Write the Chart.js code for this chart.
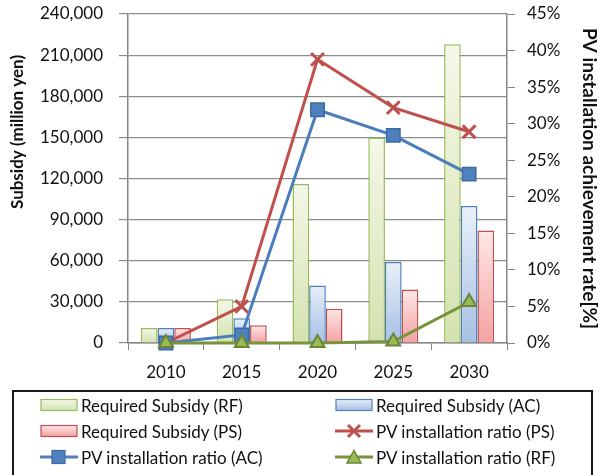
<!DOCTYPE html>
<html>
<head>
<meta charset="utf-8">
<script src="https://cdn.jsdelivr.net/npm/chart.js@4"></script>
<style>
  body { margin: 0; background: #fff; font-family: Lato, "Open Sans", sans-serif; }
  #wrap { position: relative; width: 603px; height: 475px; }
  #box { position: absolute; left: 0; top: 0; width: 603px; height: 392px; }
  #legend {
    position: absolute; left: 12px; top: 390px; width: 581px; height: 88px;
    border: 2px solid #1a1a1a; box-sizing: border-box;
  }
  .item { position: absolute; height: 24px; display: flex; align-items: center; font-size: 17px; color: #111; white-space: nowrap; }
  .item svg { margin-right: 3px; }
</style>
</head>
<body>
<div id="wrap">
  <div id="box"><canvas id="chart"></canvas></div>
  <div id="legend"></div>
</div>
<script>
const years = ['2010', '2015', '2020', '2025', '2030'];

// required subsidy, million yen
const subsidyRF = [11000, 32000, 116000, 150000, 218000];
const subsidyAC = [11000, 18000, 42000, 59000, 100000];
const subsidyPS = [11000, 13000, 25000, 39000, 82000];

// PV installation ratio, %
const ratioPS = [0, 5.0, 38.8, 32.2, 28.9];
const ratioAC = [0, 1.1, 31.9, 28.4, 23.1];
const ratioRF = [0, 0, 0, 0.2, 5.6];

const green = { top: '#f4f8e9', bottom: '#d4e2ae', line: '#9bbb59' };
const blue = { top: '#e9f0fa', bottom: '#a6bfe3', line: '#4f81bd' };
const red = { top: '#fde8e8', bottom: '#f4a1a1', line: '#c0504d' };

function barFill(c) {
  return (ctx) => {
    if (ctx.type !== 'data' || !ctx.chart.chartArea) return c.bottom;
    const ys = ctx.chart.scales.y;
    const y0 = ys.getPixelForValue(0);
    const y1 = ys.getPixelForValue(ctx.raw);
    const g = ctx.chart.ctx.createLinearGradient(0, y1, 0, y0);
    g.addColorStop(0, c.top);
    g.addColorStop(1, c.bottom);
    return g;
  };
}

function bar(label, data, c) {
  return {
    type: 'bar', label, data, yAxisID: 'y', order: 10,
    backgroundColor: barFill(c), borderColor: c.line, borderWidth: 1.5,
    barPercentage: 1, categoryPercentage: 0.66,
  };
}

const font = { family: 'Lato, "Open Sans", sans-serif', size: 17 };

// the left axis title sits above the middle of the axis in the original,
// so it is drawn here instead of through scale.title
const leftTitle = {
  id: 'leftTitle',
  afterDraw(chart) {
    const { ctx } = chart;
    ctx.save();
    ctx.translate(18, 132);
    ctx.rotate(-Math.PI / 2);
    ctx.font = 'bold 17px Lato, "Open Sans", sans-serif';
    ctx.fillStyle = '#111';
    ctx.textAlign = 'center';
    ctx.textBaseline = 'middle';
    ctx.fillText('Subsidy (million yen)', 0, 0);
    ctx.restore();
  },
};

new Chart(document.getElementById('chart'), {
  data: {
    labels: years,
    datasets: [
      bar('Required Subsidy (RF)', subsidyRF, green),
      bar('Required Subsidy (AC)', subsidyAC, blue),
      bar('Required Subsidy (PS)', subsidyPS, red),
      {
        type: 'line', label: 'PV installation ratio (PS)', data: ratioPS, yAxisID: 'y1', order: 3,
        borderColor: '#c0504d', borderWidth: 3, pointStyle: 'crossRot', pointRadius: 9,
        pointBorderWidth: 3, pointBorderColor: '#c0504d', pointBackgroundColor: '#c0504d', clip: false,
      },
      {
        type: 'line', label: 'PV installation ratio (AC)', data: ratioAC, yAxisID: 'y1', order: 2,
        borderColor: '#4a7ebb', borderWidth: 3, pointStyle: 'rect', pointRadius: 9.5,
        pointBorderWidth: 1.5, pointBorderColor: '#3d6aa3', pointBackgroundColor: '#4f81bd', clip: false,
      },
      {
        type: 'line', label: 'PV installation ratio (RF)', data: ratioRF, yAxisID: 'y1', order: 1,
        borderColor: '#77933c', borderWidth: 3, pointStyle: 'triangle', pointRadius: 8,
        pointBorderWidth: 2, pointBorderColor: '#6b8636', pointBackgroundColor: '#9bbb59', clip: false,
      },
    ],
  },
  plugins: [leftTitle],
  options: {
    responsive: true,
    maintainAspectRatio: false,
    animation: false,
    layout: { padding: { top: 14, left: 0, right: 0, bottom: 0 } },
    plugins: { legend: { display: false }, tooltip: { enabled: false } },
    scales: {
      x: {
        offset: true,
        grid: { drawOnChartArea: false, drawTicks: true, tickLength: 7, color: '#868686' },
        border: { color: '#868686', width: 1.5 },
        ticks: { color: '#111', font, padding: 12 },
        afterFit: (s) => { s.height = 49; },
      },
      y: {
        position: 'left', min: 0, max: 240000,
        ticks: { stepSize: 30000, color: '#111', font, padding: 16, callback: (v) => v.toLocaleString('en-US') },
        grid: { color: '#8c8c8c', lineWidth: 1.2, tickLength: 9 },
        border: { color: '#868686', width: 1.5 },
        afterFit: (s) => { s.width = 128; s.paddingTop = 0; s.paddingBottom = 0; },
      },
      y1: {
        position: 'right', min: 0, max: 45,
        ticks: { stepSize: 5, color: '#111', font, padding: 12, callback: (v) => v + '%' },
        grid: { drawOnChartArea: false, tickLength: 8, color: '#868686' },
        border: { color: '#868686', width: 1.5 },
        title: { display: true, text: 'PV installation achievement rate[%]', color: '#111', font: { ...font, size: 19, weight: 'bold' }, padding: { top: 2, bottom: 0 } },
        afterFit: (s) => { s.width = 96; s.paddingTop = 0; s.paddingBottom = 0; },
      },
    },
  },
});

// legend, two columns like the original
const legendItems = [
  { label: 'Required Subsidy (RF)', kind: 'bar', c: green },
  { label: 'Required Subsidy (AC)', kind: 'bar', c: blue },
  { label: 'Required Subsidy (PS)', kind: 'bar', c: red },
  { label: 'PV installation ratio (PS)', kind: 'x', color: '#c0504d' },
  { label: 'PV installation ratio (AC)', kind: 'sq', color: '#4f81bd' },
  { label: 'PV installation ratio (RF)', kind: 'tri', color: '#77933c' },
];

function swatch(it, i) {
  if (it.kind === 'bar') {
    return `<svg width="38" height="14"><defs><linearGradient id="g${i}" x1="0" y1="0" x2="0" y2="1">
      <stop offset="0" stop-color="${it.c.top}"/><stop offset="1" stop-color="${it.c.bottom}"/></linearGradient></defs>
      <rect x="1" y="1.5" width="36" height="11" fill="url(#g${i})" stroke="${it.c.line}" stroke-width="1.2"/></svg>`;
  }
  let mark = '';
  if (it.kind === 'x') mark = `<path d="M13 2 L25 14 M25 2 L13 14" stroke="${it.color}" stroke-width="3"/>`;
  if (it.kind === 'sq') mark = `<rect x="12" y="1.5" width="13" height="13" fill="#4f81bd" stroke="#3d6aa3" stroke-width="1.2"/>`;
  if (it.kind === 'tri') mark = `<path d="M19 1.5 L26 14 L12 14 Z" fill="#9bbb59" stroke="#6b8636" stroke-width="1.5"/>`;
  return `<svg width="38" height="16"><line x1="0" y1="8" x2="38" y2="8" stroke="${it.color}" stroke-width="3"/>${mark}</svg>`;
}

const legend = document.getElementById('legend');
legendItems.forEach((it, i) => {
  const d = document.createElement('div');
  d.className = 'item';
  d.style.left = (i % 2 === 0 ? 26 : 321) + 'px';
  d.style.top = (1 + Math.floor(i / 2) * 26) + 'px';
  d.innerHTML = swatch(it, i) + '<span>' + it.label + '</span>';
  legend.appendChild(d);
});
</script>
</body>
</html>
